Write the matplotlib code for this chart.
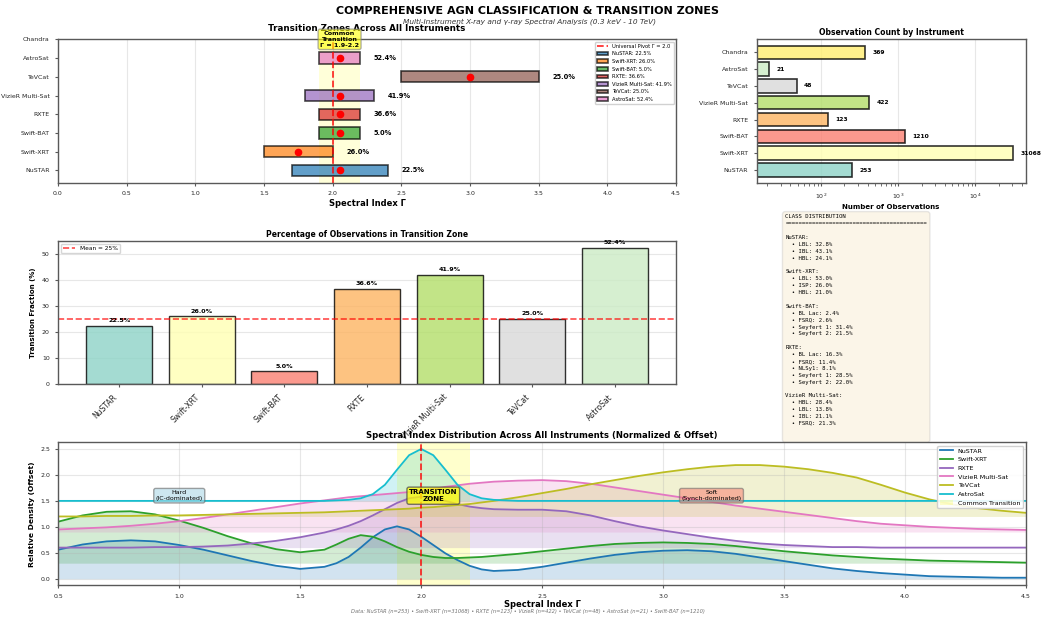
import matplotlib
matplotlib.use("Agg")
import matplotlib.pyplot as plt
import numpy as np

# --- data ---
instruments = ["NuSTAR", "Swift-XRT", "Swift-BAT", "RXTE", "VizieR Multi-Sat", "TeVCat", "AstroSat"]
zone_lo = [1.7, 1.5, 1.9, 1.9, 1.8, 2.5, 1.9]
zone_hi = [2.4, 2.0, 2.2, 2.2, 2.3, 3.5, 2.2]
pivot_pts = [2.05, 1.75, 2.05, 2.05, 2.05, 3.0, 2.05]
trans_pct = [22.5, 26.0, 5.0, 36.6, 41.9, 25.0, 52.4]

count_names = ["NuSTAR", "Swift-XRT", "Swift-BAT", "RXTE", "VizieR Multi-Sat", "TeVCat", "AstroSat", "Chandra"]
counts = [253, 31068, 1210, 123, 422, 48, 21, 369]

class_text = """CLASS DISTRIBUTION
==========================================

NuSTAR:
  • LBL: 32.8%
  • IBL: 43.1%
  • HBL: 24.1%

Swift-XRT:
  • LBL: 53.0%
  • ISP: 26.0%
  • HBL: 21.0%

Swift-BAT:
  • BL Lac: 2.4%
  • FSRQ: 2.6%
  • Seyfert 1: 31.4%
  • Seyfert 2: 21.5%

RXTE:
  • BL Lac: 16.3%
  • FSRQ: 11.4%
  • NLSy1: 8.1%
  • Seyfert 1: 28.5%
  • Seyfert 2: 22.0%

VizieR Multi-Sat:
  • HBL: 28.4%
  • LBL: 13.8%
  • IBL: 21.1%
  • FSRQ: 21.3%

 """

# density curves (already offset)
gamma = [0.5, 0.6, 0.7, 0.8, 0.9, 1.0, 1.1, 1.2, 1.3, 1.4, 1.5, 1.6,
         1.65, 1.7, 1.75, 1.8, 1.85, 1.9, 1.95, 2.0, 2.05, 2.1, 2.15, 2.2, 2.25, 2.3,
         2.4, 2.5, 2.6, 2.7, 2.8, 2.9, 3.0, 3.1, 3.2, 3.3, 3.4, 3.5, 3.6, 3.7, 3.8,
         3.9, 4.0, 4.1, 4.2, 4.3, 4.4, 4.5]
dens_nustar = [0.56, 0.66, 0.72, 0.74, 0.72, 0.65, 0.56, 0.45, 0.34, 0.25, 0.19, 0.23,
               0.30, 0.42, 0.60, 0.80, 0.95, 1.01, 0.95, 0.81, 0.65, 0.49, 0.36, 0.25, 0.18, 0.15,
               0.17, 0.23, 0.31, 0.39, 0.46, 0.51, 0.54, 0.55, 0.53, 0.48, 0.41, 0.34, 0.27, 0.20, 0.15,
               0.11, 0.08, 0.05, 0.04, 0.03, 0.02, 0.02]
dens_xrt = [1.10, 1.22, 1.29, 1.30, 1.24, 1.12, 0.98, 0.82, 0.68, 0.57, 0.51, 0.56,
            0.66, 0.77, 0.84, 0.81, 0.72, 0.61, 0.52, 0.46, 0.42, 0.40, 0.40, 0.41, 0.42, 0.44,
            0.48, 0.53, 0.58, 0.63, 0.67, 0.69, 0.70, 0.69, 0.67, 0.63, 0.58, 0.53, 0.49, 0.45, 0.42,
            0.39, 0.37, 0.35, 0.34, 0.33, 0.32, 0.31]
dens_rxte = [0.60, 0.60, 0.60, 0.60, 0.61, 0.61, 0.62, 0.64, 0.68, 0.73, 0.80, 0.89,
             0.95, 1.02, 1.11, 1.22, 1.34, 1.46, 1.55, 1.58, 1.56, 1.50, 1.44, 1.39, 1.36, 1.34,
             1.33, 1.33, 1.30, 1.22, 1.11, 1.01, 0.93, 0.86, 0.79, 0.73, 0.68, 0.65, 0.63, 0.61, 0.61,
             0.60, 0.60, 0.60, 0.60, 0.60, 0.60, 0.60]
dens_vizier = [0.95, 0.97, 0.99, 1.02, 1.06, 1.11, 1.17, 1.24, 1.31, 1.38, 1.45, 1.51,
               1.54, 1.57, 1.59, 1.61, 1.63, 1.65, 1.67, 1.70, 1.73, 1.77, 1.80, 1.83, 1.85, 1.87,
               1.89, 1.90, 1.88, 1.83, 1.76, 1.69, 1.62, 1.55, 1.48, 1.41, 1.35, 1.29, 1.23, 1.17, 1.11,
               1.06, 1.03, 1.00, 0.98, 0.96, 0.95, 0.94]
dens_tevcat = [1.20, 1.20, 1.21, 1.21, 1.22, 1.22, 1.23, 1.24, 1.25, 1.26, 1.27, 1.28,
               1.29, 1.30, 1.31, 1.32, 1.33, 1.34, 1.35, 1.37, 1.38, 1.40, 1.42, 1.44, 1.47, 1.50,
               1.57, 1.65, 1.73, 1.82, 1.90, 1.98, 2.05, 2.11, 2.16, 2.19, 2.19, 2.16, 2.11, 2.04, 1.95,
               1.81, 1.66, 1.53, 1.43, 1.36, 1.31, 1.27]
dens_astrosat = [1.50, 1.50, 1.50, 1.50, 1.50, 1.50, 1.50, 1.50, 1.50, 1.50, 1.50, 1.50,
                 1.51, 1.52, 1.55, 1.63, 1.81, 2.10, 2.38, 2.50, 2.38, 2.10, 1.81, 1.63, 1.55, 1.52,
                 1.50, 1.50, 1.50, 1.50, 1.50, 1.50, 1.50, 1.50, 1.50, 1.50, 1.50, 1.50, 1.50, 1.50, 1.50,
                 1.50, 1.50, 1.50, 1.50, 1.50, 1.50, 1.50]
dens_names = ["NuSTAR", "Swift-XRT", "RXTE", "VizieR Multi-Sat", "TeVCat", "AstroSat"]
dens_offsets = [0.0, 0.3, 0.6, 0.9, 1.2, 1.5]
dens_all = [dens_nustar, dens_xrt, dens_rxte, dens_vizier, dens_tevcat, dens_astrosat]

footnote = ("Data: NuSTAR (n=253) • Swift-XRT (n=31068) • RXTE (n=123) • VizieR (n=422) • "
            "TeVCat (n=48) • AstroSat (n=21) • Swift-BAT (n=1210)")

tab = plt.cm.tab10.colors
set3 = plt.cm.Set3(np.linspace(0, 1, 8))
dens_colors = [tab[0], tab[2], tab[4], tab[6], tab[8], tab[9]]

plt.rcParams['axes.edgecolor'] = '0.35'
plt.rcParams['axes.linewidth'] = 1.0
plt.rcParams['xtick.color'] = '0.35'
plt.rcParams['ytick.color'] = '0.35'
plt.rcParams['xtick.labelcolor'] = '0.15'
plt.rcParams['ytick.labelcolor'] = '0.15'
plt.rcParams['xtick.major.size'] = 2.5
plt.rcParams['ytick.major.size'] = 2.5

fig = plt.figure(figsize=(10.45, 6.18), dpi=100)
fig.text(0.505, 0.982, "COMPREHENSIVE AGN CLASSIFICATION & TRANSITION ZONES",
         ha='center', va='center', fontsize=8.0, fontweight='bold')
fig.text(0.507, 0.965, "Multi-Instrument X-ray and γ-ray Spectral Analysis (0.3 keV - 10 TeV)",
         ha='center', va='center', fontsize=5.3, style='italic', color='0.2')

# --- transition zones ---
ax1 = fig.add_axes([0.0555, 0.7044, 0.5915, 0.232])
ax1.axvspan(1.9, 2.2, color='yellow', alpha=0.15, lw=0)
ax1.axvline(2.0, color='red', ls='--', lw=1.3, alpha=0.8, label='Universal Pivot Γ = 2.0')
for i, name in enumerate(instruments):
    ax1.barh(i, zone_hi[i] - zone_lo[i], left=zone_lo[i], height=0.6, color=tab[i],
             alpha=0.7, edgecolor='black', linewidth=1.2, label=f"{name}: {trans_pct[i]}%")
    ax1.plot(pivot_pts[i], i, 'o', color='red', markersize=4.5)
    ax1.text(zone_hi[i] + 0.1, i, f"{trans_pct[i]}%", va='center', fontsize=4.8, fontweight='bold')
ax1.set_yticks(range(8))
ax1.set_yticklabels(instruments + ["Chandra"])
ax1.set_xlim(0, 4.5)
ax1.set_ylim(-0.65, 7)
ax1.set_xticks(np.arange(0, 4.6, 0.5))
ax1.tick_params(labelsize=4.5)
ax1.set_xlabel("Spectral Index Γ", fontsize=6, fontweight='bold', labelpad=2)
ax1.set_title("Transition Zones Across All Instruments", fontsize=6.3, fontweight='bold', pad=6)
ax1.text(2.05, 7.0, "Common\nTransition\nΓ = 1.9-2.2", ha='center', va='center', fontsize=4.6,
         fontweight='bold', zorder=5,
         bbox=dict(boxstyle='round,pad=0.3', facecolor='yellow', alpha=0.6, edgecolor='0.5'))
ax1.grid(axis='x', alpha=0.3)
ax1.set_axisbelow(True)
ax1.legend(loc='upper right', fontsize=3.7, framealpha=0.9)

# --- observation counts ---
ax2 = fig.add_axes([0.7241, 0.7034, 0.2574, 0.2335])
ax2.barh(range(8), counts, height=0.8, color=set3, alpha=0.8, edgecolor='black', linewidth=1.2)
ax2.set_xscale('log')
ax2.set_xlim(14.6, 44800)
for i, c in enumerate(counts):
    ax2.text(c * 1.25, i, str(c), va='center', fontsize=4.3, fontweight='bold')
ax2.set_yticks(range(8))
ax2.set_yticklabels(count_names)
ax2.tick_params(labelsize=4.5)
ax2.set_xlabel("Number of Observations", fontsize=5, fontweight='bold', labelpad=2)
ax2.set_title("Observation Count by Instrument", fontsize=5.5, fontweight='bold', pad=3)
ax2.grid(axis='x', alpha=0.3)
ax2.set_axisbelow(True)

# --- transition percentage ---
ax3 = fig.add_axes([0.0555, 0.3782, 0.5915, 0.2323])
xpos = np.arange(len(instruments))
ax3.bar(xpos, trans_pct, width=0.8, color=set3[:7], alpha=0.8, edgecolor='black', linewidth=1.0)
ax3.axhline(25, color='red', ls='--', lw=1.2, alpha=0.7, label='Mean = 25%')
for i, v in enumerate(trans_pct):
    ax3.text(i, v + 1, f"{v}%", ha='center', va='bottom', fontsize=4.6, fontweight='bold')
ax3.set_xticks(xpos)
ax3.set_xticklabels(instruments, rotation=45, ha='right')
ax3.tick_params(axis='y', labelsize=4.5)
ax3.tick_params(axis='x', labelsize=5.5)
ax3.set_ylabel("Transition Fraction (%)", fontsize=5, fontweight='bold')
ax3.set_title("Percentage of Observations in Transition Zone", fontsize=5.5, fontweight='bold', pad=3)
ax3.grid(axis='y', alpha=0.3)
ax3.set_axisbelow(True)
ax3.legend(loc='upper left', fontsize=4.2)

# --- class distribution text ---
ax4 = fig.add_axes([0.74, 0.38, 0.24, 0.23])
ax4.axis('off')
ax4.text(0.7515, 0.653, class_text, transform=fig.transFigure, va='top', ha='left',
         family=['DejaVu Sans Mono'], fontsize=4.1, linespacing=1.47,
         bbox=dict(boxstyle='round,pad=0.5', facecolor='wheat', alpha=0.3, edgecolor='0.7'))

# --- density distributions ---
ax5 = fig.add_axes([0.0558, 0.053, 0.926, 0.231])
ax5.set_zorder(3)
ax5.axvspan(1.9, 2.2, color='yellow', alpha=0.2, lw=0, label='Common Transition')
for name, off, d, col in zip(dens_names, dens_offsets, dens_all, dens_colors):
    ax5.fill_between(gamma, off, d, color=col, alpha=0.2, lw=0)
    ax5.plot(gamma, d, color=col, lw=1.3, label=name)
ax5.axvline(2.0, color='red', ls='--', lw=1.3, alpha=0.8)
ax5.text(1.0, 1.6, "Hard\n(IC-dominated)", ha='center', va='center', fontsize=4.5,
         bbox=dict(boxstyle='round,pad=0.3', facecolor='lightblue', alpha=0.6, edgecolor='0.4'))
ax5.text(2.05, 1.6, "TRANSITION\nZONE", ha='center', va='center', fontsize=5, fontweight='bold',
         bbox=dict(boxstyle='round,pad=0.3', facecolor='yellow', alpha=0.75, edgecolor='0.3'))
ax5.text(3.2, 1.6, "Soft\n(Synch-dominated)", ha='center', va='center', fontsize=4.5,
         bbox=dict(boxstyle='round,pad=0.3', facecolor='salmon', alpha=0.55, edgecolor='0.4'))
ax5.set_xlim(0.5, 4.5)
ax5.set_ylim(-0.125, 2.625)
ax5.tick_params(labelsize=4.5)
ax5.set_xlabel("Spectral Index Γ", fontsize=6, fontweight='bold', labelpad=1)
ax5.set_ylabel("Relative Density (Offset)", fontsize=5.4, fontweight='bold')
ax5.set_title("Spectral Index Distribution Across All Instruments (Normalized & Offset)",
              fontsize=6.15, fontweight='bold', pad=3)
ax5.grid(alpha=0.3)
h, l = ax5.get_legend_handles_labels()
order = list(range(1, len(h))) + [0]
ax5.legend([h[k] for k in order], [l[k] for k in order], loc='upper right', fontsize=4.6, framealpha=0.9)

fig.text(0.505, 0.010, footnote, ha='center', va='center', fontsize=3.7, style='italic', color='0.45')

fig.savefig("out.png", dpi=100)
